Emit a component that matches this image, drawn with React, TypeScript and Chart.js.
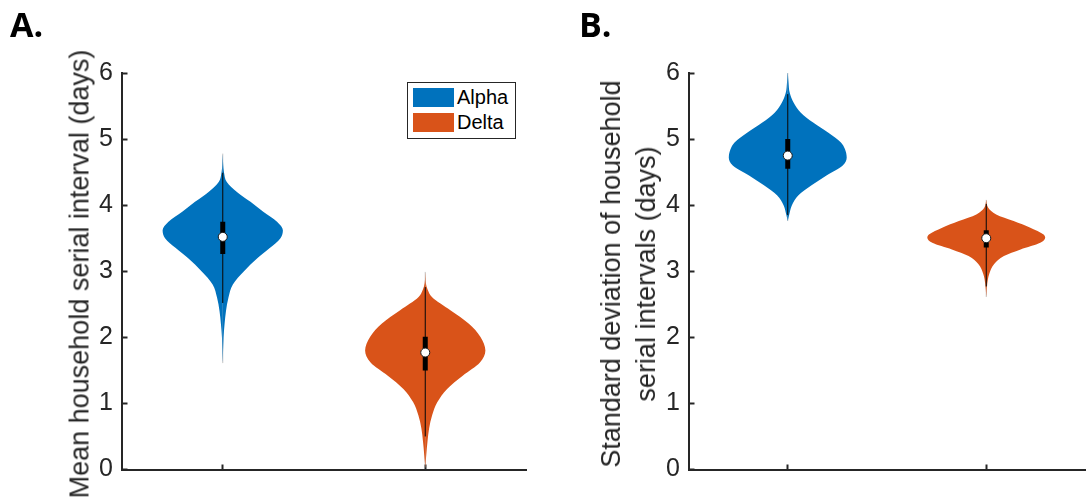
import React, { useEffect, useRef } from 'react';
import { Chart, registerables } from 'chart.js';

Chart.register(...registerables);

// ---------------- data ----------------
const categories = ['Alpha', 'Delta'];
const violinColors = ['#0072BD', '#D95319'];
const yTickValues = [0, 1, 2, 3, 4, 5, 6];
const xTickValues = [1, 2];

// Panel A: mean household serial interval (days) — kernel density outline (value, half-width)
const meanAlphaValues = [1.61, 2.0, 2.2, 2.4, 2.6, 2.8, 3.0, 3.2, 3.35, 3.5, 3.62, 3.75, 3.9, 4.05, 4.2, 4.35, 4.5, 4.62, 4.78];
const meanAlphaWidths = [0, 0.004, 0.009, 0.016, 0.028, 0.05, 0.105, 0.172, 0.232, 0.285, 0.297, 0.268, 0.2, 0.137, 0.07, 0.02, 0.006, 0.002, 0];
const meanDeltaValues = [0.03, 0.22, 0.42, 0.62, 0.82, 1.02, 1.22, 1.42, 1.62, 1.8, 2.01, 2.21, 2.41, 2.61, 2.72, 2.82, 2.99];
const meanDeltaWidths = [0, 0.005, 0.011, 0.019, 0.034, 0.06, 0.108, 0.185, 0.27, 0.297, 0.272, 0.214, 0.124, 0.033, 0.012, 0.003, 0];
const meanMedians = [3.52, 1.77];
const meanQ1 = [3.26, 1.5];
const meanQ3 = [3.75, 2.01];
const meanWhiskerLow = [2.52, 0.5];
const meanWhiskerHigh = [4.49, 2.76];

// Panel B: standard deviation of household serial intervals (days)
const sdAlphaValues = [3.76, 3.85, 4.0, 4.15, 4.3, 4.45, 4.6, 4.72, 4.85, 4.95, 5.1, 5.25, 5.4, 5.55, 5.7, 5.85, 6.02];
const sdAlphaWidths = [0, 0.007, 0.021, 0.054, 0.12, 0.195, 0.277, 0.297, 0.288, 0.268, 0.203, 0.128, 0.066, 0.03, 0.01, 0.004, 0];
const sdDeltaValues = [2.61, 2.81, 2.96, 3.11, 3.23, 3.33, 3.43, 3.51, 3.56, 3.66, 3.76, 3.86, 3.96, 4.08];
const sdDeltaWidths = [0, 0.005, 0.015, 0.04, 0.089, 0.173, 0.272, 0.297, 0.287, 0.222, 0.138, 0.05, 0.01, 0];
const sdMedians = [4.75, 3.5];
const sdQ1 = [4.55, 3.36];
const sdQ3 = [5.0, 3.62];
const sdWhiskerLow = [3.85, 2.77];
const sdWhiskerHigh = [5.68, 4.02];

const AXIS_COLOR = '#262626';
const FONT = '"Liberation Sans", Arial, Helvetica, sans-serif';

function buildDatasets(
  valuesList: number[][],
  widthsList: number[][],
  medians: number[],
  q1: number[],
  q3: number[],
  wLo: number[],
  wHi: number[]
) {
  const ds: any[] = [];
  categories.forEach((cat, i) => {
    const c = xTickValues[i];
    const vals = valuesList[i];
    const w = widthsList[i];
    const color = violinColors[i];
    ds.push({
      label: cat + ' range',
      data: [{ x: c, y: vals[0] }, { x: c, y: vals[vals.length - 1] }],
      borderColor: 'rgba(150,150,150,0.55)',
      borderWidth: 1,
      pointRadius: 0,
      fill: false,
      order: 5,
    });
    [1, -1].forEach((side) => {
      ds.push({
        label: cat,
        data: vals.map((v, k) => ({ x: c + side * w[k], y: v })),
        borderColor: color,
        backgroundColor: color,
        borderWidth: 0,
        pointRadius: 0,
        fill: { value: c },
        cubicInterpolationMode: 'monotone',
        order: 4,
      });
    });
    ds.push({
      label: cat + ' whisker',
      data: [{ x: c, y: wLo[i] }, { x: c, y: wHi[i] }],
      borderColor: '#000000',
      borderWidth: 1,
      pointRadius: 0,
      fill: false,
      order: 3,
    });
    ds.push({
      label: cat + ' IQR',
      data: [{ x: c, y: q1[i] }, { x: c, y: q3[i] }],
      borderColor: '#000000',
      borderWidth: 5,
      borderCapStyle: 'butt',
      pointRadius: 0,
      fill: false,
      order: 2,
    });
    ds.push({
      label: cat + ' median',
      data: [{ x: c, y: medians[i] }],
      showLine: false,
      pointRadius: 4.5,
      pointBackgroundColor: '#ffffff',
      pointBorderColor: '#1a1a1a',
      pointBorderWidth: 1,
      fill: false,
      order: 1,
    });
  });
  return ds;
}

function makeConfig(datasets: any[], yAxisWidth: number, rightPad: number): any {
  return {
    type: 'line',
    data: { datasets },
    options: {
      indexAxis: 'y',
      responsive: false,
      animation: false,
      events: [],
      layout: { padding: { left: 0, right: rightPad, top: 73, bottom: 0 } },
      plugins: {
        legend: { display: false },
        tooltip: { enabled: false },
        title: { display: false },
      },
      scales: {
        x: {
          type: 'linear',
          position: 'bottom',
          min: 0.5,
          max: 2.5,
          afterBuildTicks: (s: any) => {
            s.ticks = xTickValues.map((v) => ({ value: v }));
          },
          afterFit: (s: any) => {
            s.height = 24;
          },
          ticks: { display: false },
          grid: {
            display: true,
            drawOnChartArea: false,
            drawTicks: true,
            tickLength: -5,
            tickWidth: 2,
            tickColor: AXIS_COLOR,
          },
          border: { display: true, color: AXIS_COLOR, width: 2 },
        },
        y: {
          type: 'linear',
          position: 'left',
          min: 0,
          max: 6,
          afterBuildTicks: (s: any) => {
            s.ticks = yTickValues.map((v) => ({ value: v }));
          },
          afterFit: (s: any) => {
            s.width = yAxisWidth;
          },
          ticks: {
            padding: 14.5,
            color: AXIS_COLOR,
            font: { family: FONT, size: 25 },
            callback: (v: any) => String(v),
          },
          grid: {
            display: true,
            drawOnChartArea: false,
            drawTicks: true,
            tickLength: -6,
            tickWidth: 2,
            tickColor: AXIS_COLOR,
          },
          border: { display: true, color: AXIS_COLOR, width: 2 },
        },
      },
    },
  };
}

function ViolinPanel(props: { config: any; left: number; width: number }) {
  const ref = useRef<HTMLCanvasElement | null>(null);
  useEffect(() => {
    if (!ref.current) return;
    const chart = new Chart(ref.current, props.config);
    return () => chart.destroy();
  }, []);
  return (
    <canvas
      ref={ref}
      width={props.width}
      height={499}
      style={{ position: 'absolute', left: props.left, top: 0, width: props.width, height: 499 }}
    />
  );
}

const panelLetterStyle: React.CSSProperties = {
  position: 'absolute',
  fontFamily: '"Open Sans", sans-serif',
  fontWeight: 700,
  fontSize: 34,
  lineHeight: '34px',
  color: '#000',
};

const axisTitleStyle: React.CSSProperties = {
  position: 'absolute',
  transform: 'translate(-50%, -50%) rotate(-90deg)',
  whiteSpace: 'nowrap',
  fontFamily: FONT,
  fontSize: 27,
  lineHeight: '35px',
  color: AXIS_COLOR,
  textAlign: 'center',
};

export default function App() {
  const cfgA = makeConfig(
    buildDatasets([meanAlphaValues, meanDeltaValues], [meanAlphaWidths, meanDeltaWidths], meanMedians, meanQ1, meanQ3, meanWhiskerLow, meanWhiskerHigh),
    121.5,
    18.5
  );
  const cfgB = makeConfig(
    buildDatasets([sdAlphaValues, sdDeltaValues], [sdAlphaWidths, sdDeltaWidths], sdMedians, sdQ1, sdQ3, sdWhiskerLow, sdWhiskerHigh),
    143.5,
    0
  );
  return (
    <div style={{ position: 'fixed', left: 0, top: 0, width: 1091, height: 499, background: '#fff', overflow: 'hidden' }}>
      <ViolinPanel config={cfgA} left={0} width={545} />
      <ViolinPanel config={cfgB} left={545} width={546} />
      <div style={{ ...panelLetterStyle, left: 10, top: 7 }}>A.</div>
      <div style={{ ...panelLetterStyle, left: 579, top: 7 }}>B.</div>
      <div style={{ ...axisTitleStyle, left: 80, top: 274 }}>Mean household serial interval (days)</div>
      <div style={{ ...axisTitleStyle, left: 628.5, top: 274 }}>
        Standard deviation of household
        <br />
        serial intervals (days)
      </div>
      <div
        style={{
          position: 'absolute',
          left: 407,
          top: 82,
          width: 109,
          height: 57,
          boxSizing: 'border-box',
          border: '1px solid ' + AXIS_COLOR,
          background: '#fff',
          fontFamily: FONT,
          fontSize: 20,
          color: '#000',
        }}
      >
        {categories.map((cat, i) => (
          <React.Fragment key={cat}>
            <div
              style={{
                position: 'absolute',
                left: 5,
                top: 5 + i * 25,
                width: 41,
                height: 19,
                background: violinColors[i],
              }}
            />
            <div style={{ position: 'absolute', left: 49, top: 3 + i * 25, lineHeight: '23px' }}>{cat}</div>
          </React.Fragment>
        ))}
      </div>
    </div>
  );
}
